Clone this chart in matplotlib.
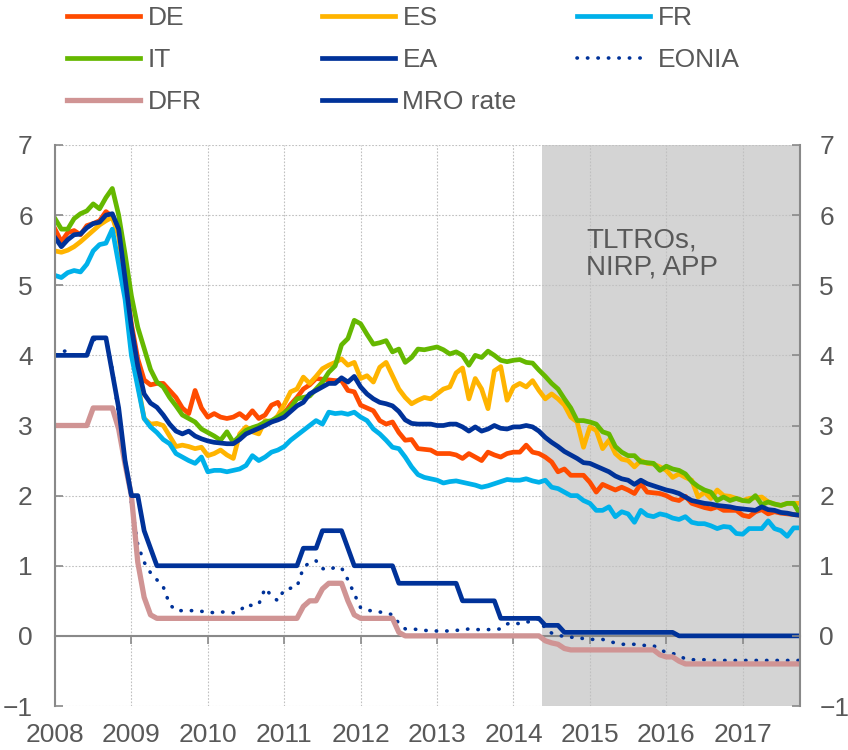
import numpy as np
import matplotlib
matplotlib.use("Agg")
import matplotlib.pyplot as plt

plt.rcParams['font.family'] = ['Liberation Sans', 'DejaVu Sans']

# monthly data, Jan 2008 - Oct 2017 (percentages)
start_year = 2008

de = [5.80, 5.62, 5.75, 5.78, 5.72, 5.85, 5.88, 5.92, 6.05, 5.98, 5.75, 5.10,
      4.45, 3.95, 3.65, 3.58, 3.60, 3.60, 3.50, 3.40, 3.25, 3.17, 3.50, 3.25,
      3.12, 3.17, 3.12, 3.10, 3.12, 3.17, 3.10, 3.21, 3.10, 3.15, 3.29, 3.33,
      3.17, 3.30, 3.40, 3.52, 3.58, 3.67, 3.66, 3.65, 3.64, 3.64, 3.50, 3.48,
      3.29, 3.25, 3.21, 3.07, 3.02, 3.05, 2.90, 2.79, 2.80, 2.67, 2.66, 2.65,
      2.60, 2.60, 2.60, 2.58, 2.53, 2.60, 2.55, 2.50, 2.62, 2.58, 2.55, 2.60,
      2.62, 2.62, 2.72, 2.62, 2.60, 2.55, 2.48, 2.34, 2.38, 2.29, 2.29, 2.29,
      2.19, 2.05, 2.16, 2.12, 2.08, 2.12, 2.08, 2.03, 2.17, 2.05, 2.04, 2.03,
      2.00, 1.95, 1.93, 1.99, 1.89, 1.86, 1.83, 1.81, 1.84, 1.79, 1.79, 1.79,
      1.72, 1.70, 1.77, 1.80, 1.74, 1.77, 1.75, 1.74, 1.73, 1.72]

es = [5.49, 5.47, 5.50, 5.55, 5.62, 5.70, 5.78, 5.86, 5.92, 5.97, 5.70, 5.05,
      4.30, 3.60, 3.10, 3.02, 3.03, 3.00, 2.85, 2.70, 2.72, 2.70, 2.67, 2.69,
      2.57, 2.60, 2.65, 2.58, 2.53, 2.88, 2.98, 2.91, 2.88, 3.07, 3.05, 3.14,
      3.30, 3.48, 3.52, 3.69, 3.60, 3.70, 3.81, 3.86, 3.90, 3.95, 3.86, 3.90,
      3.67, 3.71, 3.62, 3.83, 3.90, 3.71, 3.52, 3.40, 3.31, 3.36, 3.40, 3.38,
      3.45, 3.52, 3.55, 3.75, 3.82, 3.38, 3.67, 3.52, 3.24, 3.78, 3.84, 3.36,
      3.55, 3.60, 3.55, 3.64, 3.50, 3.38, 3.45, 3.38, 3.29, 3.12, 3.05, 2.69,
      2.98, 2.93, 2.67, 2.79, 2.60, 2.52, 2.50, 2.41, 2.50, 2.46, 2.45, 2.41,
      2.36, 2.26, 2.31, 2.26, 2.22, 1.98, 2.05, 1.96, 2.08, 2.00, 1.99, 1.96,
      1.93, 1.96, 1.97, 1.98, 1.91, 1.88, 1.86, 1.89, 1.89, 1.89]

fr = [5.14, 5.11, 5.18, 5.21, 5.19, 5.30, 5.49, 5.58, 5.60, 5.80, 5.30, 4.80,
      4.00, 3.55, 3.10, 2.98, 2.90, 2.80, 2.74, 2.60, 2.55, 2.50, 2.46, 2.55,
      2.34, 2.36, 2.36, 2.34, 2.36, 2.38, 2.43, 2.57, 2.50, 2.55, 2.62, 2.65,
      2.70, 2.79, 2.86, 2.93, 3.00, 3.07, 3.02, 3.19, 3.17, 3.18, 3.16, 3.19,
      3.12, 3.07, 2.95, 2.88, 2.79, 2.69, 2.67, 2.55, 2.41, 2.30, 2.26, 2.24,
      2.22, 2.18, 2.20, 2.21, 2.19, 2.17, 2.15, 2.12, 2.14, 2.17, 2.20, 2.23,
      2.22, 2.22, 2.24, 2.21, 2.19, 2.22, 2.12, 2.10, 2.05, 2.00, 2.00, 1.93,
      1.89, 1.79, 1.79, 1.84, 1.70, 1.77, 1.74, 1.62, 1.79, 1.72, 1.70, 1.74,
      1.72, 1.68, 1.66, 1.70, 1.62, 1.60, 1.60, 1.57, 1.53, 1.56, 1.55, 1.46,
      1.45, 1.53, 1.53, 1.53, 1.64, 1.53, 1.50, 1.42, 1.54, 1.54]

it = [5.95, 5.80, 5.80, 5.95, 6.02, 6.06, 6.16, 6.09, 6.25, 6.38, 6.00, 5.45,
      4.85, 4.40, 4.10, 3.80, 3.62, 3.55, 3.40, 3.28, 3.15, 3.10, 3.05, 2.95,
      2.90, 2.85, 2.79, 2.91, 2.76, 2.85, 2.93, 2.97, 3.00, 3.05, 3.07, 3.12,
      3.18, 3.25, 3.38, 3.40, 3.42, 3.52, 3.62, 3.76, 3.85, 4.15, 4.24, 4.50,
      4.45, 4.30, 4.16, 4.18, 4.21, 4.05, 4.09, 3.90, 3.97, 4.09, 4.08, 4.10,
      4.12, 4.08, 4.02, 4.05, 4.00, 3.86, 4.00, 3.97, 4.06, 4.00, 3.93, 3.91,
      3.93, 3.94, 3.90, 3.89, 3.79, 3.70, 3.60, 3.52, 3.38, 3.25, 3.07, 3.07,
      3.05, 3.02, 2.91, 2.88, 2.70, 2.62, 2.57, 2.57, 2.48, 2.47, 2.46, 2.36,
      2.42, 2.38, 2.36, 2.31, 2.20, 2.13, 2.08, 2.05, 1.93, 1.98, 1.93, 1.96,
      1.93, 1.92, 2.00, 1.87, 1.91, 1.88, 1.86, 1.89, 1.89, 1.74]

ea = [5.68, 5.55, 5.65, 5.72, 5.73, 5.82, 5.88, 5.90, 6.00, 6.02, 5.80, 5.10,
      4.40, 3.85, 3.45, 3.32, 3.26, 3.15, 3.02, 2.92, 2.88, 2.92, 2.85, 2.81,
      2.78, 2.76, 2.75, 2.74, 2.74, 2.80, 2.88, 2.92, 2.96, 3.00, 3.05, 3.08,
      3.12, 3.20, 3.28, 3.33, 3.45, 3.50, 3.55, 3.60, 3.60, 3.68, 3.62, 3.70,
      3.55, 3.45, 3.38, 3.33, 3.31, 3.28, 3.20, 3.08, 3.03, 3.02, 3.02, 3.02,
      3.00, 3.00, 3.02, 3.02, 2.98, 2.92, 2.98, 2.92, 2.95, 3.00, 2.96, 2.95,
      2.98, 2.98, 3.00, 2.98, 2.92, 2.83, 2.76, 2.70, 2.63, 2.58, 2.53, 2.47,
      2.46, 2.42, 2.38, 2.34, 2.28, 2.24, 2.22, 2.16, 2.22, 2.17, 2.14, 2.11,
      2.08, 2.06, 2.03, 1.98, 1.93, 1.91, 1.89, 1.88, 1.86, 1.85, 1.84, 1.82,
      1.81, 1.80, 1.79, 1.84, 1.80, 1.79, 1.76, 1.75, 1.73, 1.72]

eonia = [4.00, 4.05, 4.07, 4.00, 4.00, 4.00, 4.22, 4.25, 4.25, 3.80, 3.15, 2.50,
         1.90, 1.30, 1.05, 0.90, 0.80, 0.70, 0.45, 0.36, 0.36, 0.36, 0.36, 0.35,
         0.34, 0.33, 0.34, 0.34, 0.33, 0.35, 0.45, 0.43, 0.45, 0.68, 0.57, 0.50,
         0.66, 0.68, 0.70, 0.97, 1.05, 1.07, 0.96, 0.94, 0.98, 0.97, 0.80, 0.60,
         0.40, 0.37, 0.35, 0.34, 0.33, 0.30, 0.18, 0.10, 0.10, 0.09, 0.08, 0.07,
         0.07, 0.07, 0.07, 0.08, 0.08, 0.10, 0.09, 0.09, 0.09, 0.09, 0.10, 0.17,
         0.19, 0.17, 0.20, 0.20, 0.25, 0.10, 0.04, 0.01, -0.01, -0.02, -0.02, -0.04,
         -0.05, -0.05, -0.05, -0.08, -0.10, -0.12, -0.12, -0.12, -0.13, -0.14, -0.14, -0.19,
         -0.24, -0.25, -0.28, -0.33, -0.34, -0.34, -0.34, -0.35, -0.35, -0.35, -0.35, -0.35,
         -0.35, -0.35, -0.35, -0.35, -0.35, -0.35, -0.35, -0.35, -0.35, -0.35]

dfr = [3.00, 3.00, 3.00, 3.00, 3.00, 3.00, 3.25, 3.25, 3.25, 3.25, 2.95, 2.45,
       2.00, 1.05, 0.55, 0.30, 0.25, 0.25, 0.25, 0.25, 0.25, 0.25, 0.25, 0.25,
       0.25, 0.25, 0.25, 0.25, 0.25, 0.25, 0.25, 0.25, 0.25, 0.25, 0.25, 0.25,
       0.25, 0.25, 0.25, 0.42, 0.50, 0.50, 0.67, 0.75, 0.75, 0.75, 0.50, 0.30,
       0.25, 0.25, 0.25, 0.25, 0.25, 0.25, 0.05, 0.00, 0.00, 0.00, 0.00, 0.00,
       0.00, 0.00, 0.00, 0.00, 0.00, 0.00, 0.00, 0.00, 0.00, 0.00, 0.00, 0.00,
       0.00, 0.00, 0.00, 0.00, 0.00, -0.07, -0.10, -0.12, -0.18, -0.20, -0.20, -0.20,
       -0.20, -0.20, -0.20, -0.20, -0.20, -0.20, -0.20, -0.20, -0.20, -0.20, -0.20, -0.27,
       -0.30, -0.30, -0.36, -0.40, -0.40, -0.40, -0.40, -0.40, -0.40, -0.40, -0.40, -0.40,
       -0.40, -0.40, -0.40, -0.40, -0.40, -0.40, -0.40, -0.40, -0.40, -0.40]

mro = [4.00, 4.00, 4.00, 4.00, 4.00, 4.00, 4.25, 4.25, 4.25, 3.75, 3.25, 2.50,
       2.00, 2.00, 1.50, 1.25, 1.00, 1.00, 1.00, 1.00, 1.00, 1.00, 1.00, 1.00,
       1.00, 1.00, 1.00, 1.00, 1.00, 1.00, 1.00, 1.00, 1.00, 1.00, 1.00, 1.00,
       1.00, 1.00, 1.00, 1.25, 1.25, 1.25, 1.50, 1.50, 1.50, 1.50, 1.25, 1.00,
       1.00, 1.00, 1.00, 1.00, 1.00, 1.00, 0.75, 0.75, 0.75, 0.75, 0.75, 0.75,
       0.75, 0.75, 0.75, 0.75, 0.50, 0.50, 0.50, 0.50, 0.50, 0.50, 0.25, 0.25,
       0.25, 0.25, 0.25, 0.25, 0.25, 0.15, 0.15, 0.15, 0.05, 0.05, 0.05, 0.05,
       0.05, 0.05, 0.05, 0.05, 0.05, 0.05, 0.05, 0.05, 0.05, 0.05, 0.05, 0.05,
       0.05, 0.05, 0.00, 0.00, 0.00, 0.00, 0.00, 0.00, 0.00, 0.00, 0.00, 0.00,
       0.00, 0.00, 0.00, 0.00, 0.00, 0.00, 0.00, 0.00, 0.00, 0.00]

# period with TLTROs / negative rates / asset purchases
shade_start = 2014.38
shade_label = "TLTROs,\nNIRP, APP"

TEXT = '#595959'
AXIS = '#898989'
GRID = '#C0C0C0'
BLUE = '#003299'

x = start_year + np.arange(len(de)) / 12
x_end = x[-1]

fig = plt.figure(figsize=(8.48, 7.5), dpi=100)
ax = fig.add_axes([55 / 848, 44 / 750, 745 / 848, 561 / 750])

ax.axvspan(shade_start, x_end, color='#D4D4D4', lw=0, zorder=0)

lw = 3.4
l_de, = ax.plot(x, de, color='#FF4B00', lw=lw, label='DE')
l_es, = ax.plot(x, es, color='#FFB400', lw=lw, label='ES')
l_fr, = ax.plot(x, fr, color='#00B1EA', lw=lw, label='FR')
l_it, = ax.plot(x, it, color='#65B800', lw=lw, label='IT')
l_ea, = ax.plot(x, ea, color=BLUE, lw=lw, label='EA')
l_eon, = ax.plot(x, eonia, color=BLUE, lw=2.6, linestyle=(0, (0.1, 2.8)),
                 dash_capstyle='round', label='EONIA')
l_dfr, = ax.plot(x, dfr, color='#D09494', lw=3.8, label='DFR')
l_mro, = ax.plot(x, mro, color=BLUE, lw=lw, label='MRO rate')

ax.text(2014.95, 5.83, shade_label, ha='left', va='top', fontsize=20,
        color=TEXT, linespacing=1.05)

ax.set_xlim(start_year, x_end)
ax.set_ylim(-1, 7)
ax.set_xticks(range(2008, 2018))
ax.set_yticks(range(-1, 8))
ax.grid(True, color=GRID, linestyle=(0, (1.5, 1.5)), linewidth=0.8)
ax.set_axisbelow(True)
for s in ['top', 'bottom', 'right']:
    ax.spines[s].set_visible(False)
ax.spines['left'].set_color(AXIS)
ax.spines['left'].set_linewidth(1.5)
ax.tick_params(axis='x', length=0, pad=12, labelsize=19, labelcolor=TEXT)
ax.tick_params(axis='y', direction='in', length=6, width=1.2, color=AXIS,
               pad=16, labelsize=19, labelcolor=TEXT)

# right-hand axis with same scale
ax2 = ax.twinx()
ax2.set_ylim(-1, 7)
ax2.set_yticks(range(-1, 8))
for s in ['top', 'bottom', 'left']:
    ax2.spines[s].set_visible(False)
ax2.spines['right'].set_color(AXIS)
ax2.spines['right'].set_linewidth(1.5)
ax2.tick_params(axis='y', direction='in', length=6, width=1.2, color=AXIS,
                pad=14, labelsize=19, labelcolor=TEXT)

# horizontal axis line at zero with year ticks
zero_pos = (0 - (-1)) / (7 - (-1))
sec = ax.secondary_xaxis(zero_pos)
sec.set_xticks(range(2009, 2018))
sec.tick_params(direction='out', length=6, width=1.2, color=AXIS, labelbottom=False)
sec.spines['bottom'].set_color(AXIS)
sec.spines['bottom'].set_linewidth(1.5)
sec.set_zorder(1.5)

# legend laid out in three fixed-width columns
columns = [[l_de, l_it, l_dfr], [l_es, l_ea, l_mro], [l_fr, l_eon]]
col_x = [67, 322, 577]
for handles, cx in zip(columns, col_x):
    fig.legend(handles=handles, loc='upper left',
               bbox_to_anchor=(cx / 848, 1 - 6 / 750), frameon=False,
               fontsize=19, handlelength=2.75, handletextpad=0.3,
               labelspacing=0.68, borderpad=0, borderaxespad=0,
               labelcolor=TEXT)

fig.savefig('out.png', dpi=100)
